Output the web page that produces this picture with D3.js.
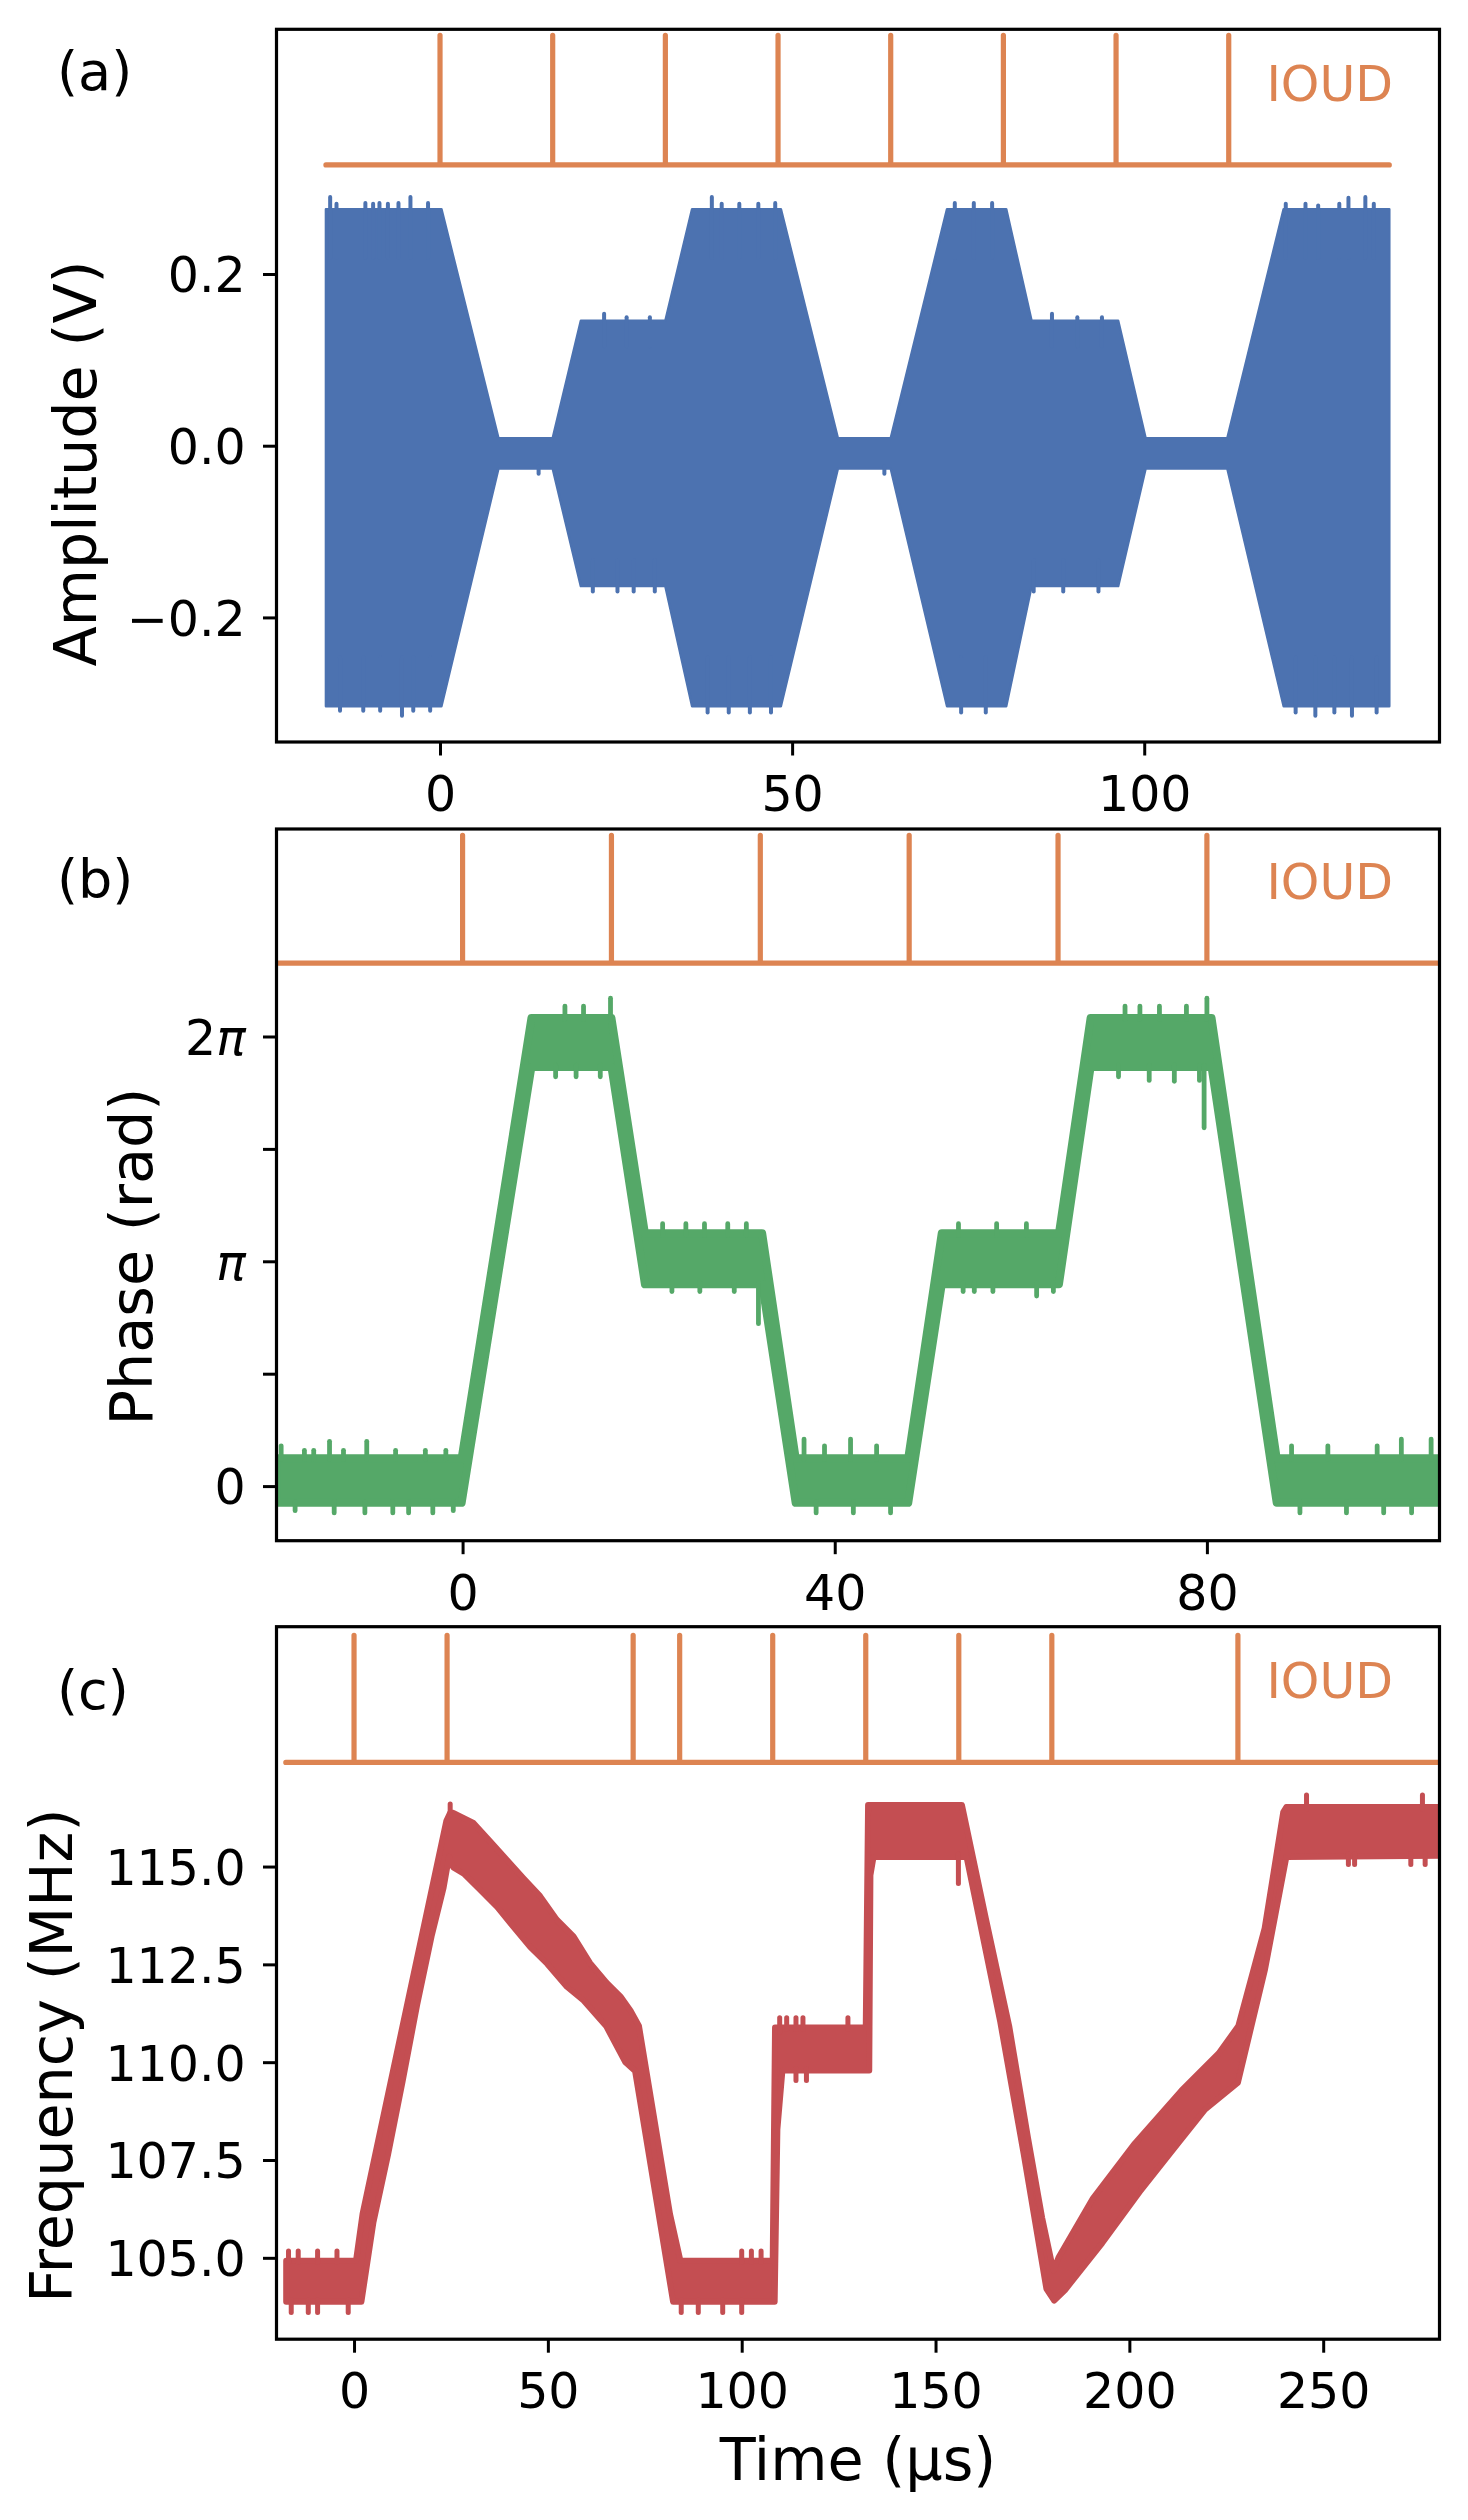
<!DOCTYPE html>
<html>
<head>
<meta charset="utf-8">
<script src="https://cdn.jsdelivr.net/npm/d3@7/dist/d3.min.js"></script>
<style>
html,body{margin:0;padding:0;background:#ffffff;}
svg{display:block;}
</style>
</head>
<body>
<svg id="fig" width="1468" height="2520" xmlns="http://www.w3.org/2000/svg"></svg>
<script>
// ================= DATA =================
// ---- panel (a): amplitude envelope of the RF signal (V) ----
const ampXTicks = [0, 50, 100];
const ampYTicks = [-0.2, 0.0, 0.2];
const ampT  = [-16.2, 0.2, 8.3, 16.0, 20.0, 32.0, 35.8, 48.4, 56.5, 64.0, 72.0, 80.4, 84.0, 96.3, 100.2, 111.8, 119.8, 134.8];
const ampHi = [0.277, 0.277, 0.010, 0.010, 0.147, 0.147, 0.277, 0.277, 0.010, 0.010, 0.277, 0.277, 0.147, 0.147, 0.010, 0.010, 0.277, 0.277];
const ampLo = [-0.305, -0.305, -0.028, -0.028, -0.165, -0.165, -0.305, -0.305, -0.028, -0.028, -0.305, -0.305, -0.165, -0.165, -0.028, -0.028, -0.305, -0.305];
const ampSpikeT = [-15.6, -14.7, -10.6, -9.5, -8.6, -7.4, -5.9, -4.2, -1.7, 23.3, 26.5, 29.8, 38.6, 40.0, 42.5, 45.2, 47.6, 73.1, 75.8, 78.4, 86.9, 90.5, 94.0, 120.1, 122.9, 124.7, 127.7, 129.0, 131.4, 132.6,
                   -14.2, -10.9, -8.5, -5.4, -3.8, -1.4, 21.7, 25.2, 27.5, 30.5, 38.0, 41.0, 44.0, 47.0, 74.0, 77.5, 84.3, 88.5, 93.5, 14.0, 63.1, 121.5, 124.3, 127.0, 129.5, 133.0];
const ampSpikeV = [0.292, 0.284, 0.285, 0.284, 0.285, 0.284, 0.285, 0.292, 0.285, 0.156, 0.152, 0.152, 0.292, 0.284, 0.284, 0.284, 0.285, 0.285, 0.285, 0.285, 0.156, 0.152, 0.152, 0.284, 0.284, 0.282, 0.284, 0.291, 0.292, 0.284,
                   -0.311, -0.311, -0.311, -0.317, -0.311, -0.311, -0.172, -0.172, -0.172, -0.172, -0.313, -0.313, -0.313, -0.313, -0.313, -0.313, -0.172, -0.172, -0.172, -0.035, -0.035, -0.313, -0.317, -0.313, -0.317, -0.313];
const ioudA = [0, 16, 32, 48, 64, 80, 96, 112];
const ioudASpan = [-16.2, 134.8];
const ioudALevels = [0.327, 0.478];

// ---- panel (b): phase (in units of pi) ----
const phaseXTicks = [0, 40, 80];
const phaseYTicks = [0, 0.5, 1, 1.5, 2];
const phaseYLabels = ['0', '', 'π', '', '2π'];
const phaseT  = [-20, -0.1, 7.4, 16.0, 19.6, 32.2, 35.8, 47.9, 51.5, 64.1, 67.5, 80.5, 87.5, 105];
const phaseHi = [0.142, 0.142, 2.100, 2.100, 1.142, 1.142, 0.142, 0.142, 1.142, 1.142, 2.100, 2.100, 0.142, 0.142];
const phaseLo = [-0.092, -0.092, 1.847, 1.847, 0.880, 0.880, -0.092, -0.092, 0.880, 0.880, 1.847, 1.847, -0.092, -0.092];
const phaseSpikeT = [-19.5, -17.0, -16.0, -14.3, -12.8, -10.3, -7.2, -4.0, -1.8, -18.0, -13.8, -10.5, -7.5, -5.8, -3.2, -1.0,
                     11.0, 13.0, 15.9, 10.0, 12.2, 14.8, 21.5, 24.0, 26.0, 28.5, 30.5, 22.5, 25.5, 29.2, 31.8,
                     36.7, 38.9, 41.7, 44.5, 38.0, 42.0, 46.0, 53.3, 57.4, 60.6, 53.8, 55.0, 57.0, 61.7, 63.5,
                     71.2, 72.8, 74.9, 77.8, 80.0, 70.5, 73.8, 76.5, 79.2, 79.7, 89.1, 93.0, 98.3, 100.9, 104.1, 90.0, 95.0, 99.0, 102.0];
const phaseSpikeV = [0.19, 0.17, 0.17, 0.21, 0.17, 0.21, 0.17, 0.17, 0.17, -0.12, -0.13, -0.13, -0.13, -0.13, -0.13, -0.12,
                     2.146, 2.146, 2.181, 1.81, 1.81, 1.81, 1.178, 1.178, 1.178, 1.178, 1.178, 0.855, 0.855, 0.855, 0.712,
                     0.22, 0.19, 0.22, 0.19, -0.13, -0.13, -0.13, 1.178, 1.178, 1.178, 0.855, 0.855, 0.855, 0.835, 0.855,
                     2.146, 2.146, 2.146, 2.146, 2.181, 1.81, 1.794, 1.79, 1.794, 1.583, 0.19, 0.19, 0.19, 0.22, 0.22, -0.13, -0.13, -0.13, -0.13];
const ioudB = [0, 16, 32, 48, 64, 80];
const ioudBSpan = [-20, 105];
const ioudBLevels = [2.326, 2.895];

// ---- panel (c): frequency (MHz) ----
const freqXTicks = [0, 50, 100, 150, 200, 250];
const freqYTicks = [105.0, 107.5, 110.0, 112.5, 115.0];
const freqHiT = [-17.5, 0.5, 2.2, 13.8, 23.8, 24.8, 25.6, 30.8, 35.1, 39.4, 43.7, 48.0, 52.3, 56.6, 60.9, 65.2, 68.7, 71.3, 73.5, 81.5, 84.2, 108.0, 108.6, 132.0, 132.6, 156.8, 163.0, 169.0, 173.8, 177.5, 180.4, 181.8, 190.6, 201.4, 213.4, 223.0, 228.1, 234.9, 239.7, 240.5, 280];
const freqHiV = [105.0, 105.0, 106.2, 111.6, 116.24, 116.45, 116.45, 116.19, 115.72, 115.25, 114.78, 114.32, 113.72, 113.29, 112.61, 112.1, 111.76, 111.4, 111.0, 106.2, 105.0, 105.0, 110.96, 110.96, 116.65, 116.65, 113.74, 111.0, 108.17, 106.1, 104.75, 105.1, 106.6, 108.0, 109.35, 110.3, 111.0, 113.5, 116.47, 116.6, 116.6];
const freqLoT = [-17.5, 1.9, 5.0, 8.8, 12.5, 16.3, 20.0, 23.1, 24.5, 25.6, 28.3, 32.6, 36.9, 41.1, 45.4, 49.8, 54.9, 59.2, 65.0, 70.0, 72.5, 82.3, 108.5, 109.2, 110.5, 132.9, 133.2, 134.0, 158.0, 166.7, 172.7, 178.6, 180.6, 183.4, 193.0, 202.6, 212.2, 219.4, 228.0, 235.0, 240.5, 280];
const freqLoV = [103.8, 103.8, 105.83, 107.57, 109.42, 111.4, 113.14, 114.38, 115.17, 114.9, 114.74, 114.32, 113.89, 113.38, 112.87, 112.44, 111.85, 111.5, 110.85, 109.92, 109.7, 103.8, 103.8, 108.2, 109.71, 109.71, 114.7, 115.17, 115.17, 110.95, 107.6, 104.13, 103.83, 104.1, 105.3, 106.6, 107.8, 108.7, 109.4, 112.3, 115.17, 115.2];
const freqSpikeT = [-16.9, -14.4, -9.4, -4.4, -16.2, -11.8, -9.4, -1.5, 100.0, 102.5, 105.0, 84.4, 88.8, 95.1, 100.0,
                    109.8, 111.6, 114.0, 115.8, 127.4, 114.0, 116.7, 155.9, 245.7, 275.6, 256.5, 258.1, 272.6, 276.3, 24.8];
const freqSpikeV = [105.24, 105.24, 105.24, 105.24, 103.54, 103.54, 103.54, 103.54, 105.24, 105.24, 105.24, 103.54, 103.54, 103.54, 103.54,
                    111.2, 111.2, 111.2, 111.2, 111.2, 109.47, 109.47, 114.5, 116.89, 116.89, 114.99, 114.99, 114.99, 114.99, 116.66];
const ioudC = [0, 24, 72, 84, 108, 132, 156, 180, 228];
const ioudCSpan = [-17.6, 280];
const ioudCLevels = [117.66, 120.91];

// ================= DRAWING =================
const FONT = '"DejaVu Sans", "Liberation Sans", sans-serif';
const ORANGE = '#dd8452';
const svg = d3.select('#fig');
svg.append('rect').attr('width', 1468).attr('height', 2520).attr('fill', '#ffffff');

function styleAxis(a) {
  a.attr('font-family', FONT).attr('font-size', 49);
  a.select('.domain').remove();
  a.selectAll('line').attr('stroke', '#000').attr('stroke-width', 3);
  a.selectAll('text').attr('fill', '#000');
}

function drawPanel(cfg) {
  const fr = cfg.frame;
  const x = d3.scaleLinear().domain(cfg.xDomain).range([fr.x0, fr.x1]);
  const y = d3.scaleLinear().domain(cfg.yDomain).range([fr.y1, fr.y0]);
  const g = svg.append('g');
  const clipId = 'clip' + cfg.id;
  svg.append('clipPath').attr('id', clipId).append('rect')
    .attr('x', fr.x0).attr('y', fr.y0).attr('width', fr.x1 - fr.x0).attr('height', fr.y1 - fr.y0);
  const plot = g.append('g').attr('clip-path', `url(#${clipId})`);

  // band (noisy trace envelope); outline inset by half the stroke so the outer edge matches the data
  const hw = cfg.edgeW / 2;
  const hiPts = cfg.hiT.map((t, i) => [x(t), y(cfg.hiV[i]) + hw]);
  const loPts = cfg.loT.map((t, i) => [x(t), y(cfg.loV[i]) - hw]).reverse();
  plot.append('path')
    .attr('d', d3.line()(hiPts.concat(loPts)) + 'Z')
    .attr('fill', cfg.color).attr('stroke', cfg.color)
    .attr('stroke-width', cfg.edgeW).attr('stroke-linejoin', 'round');

  // spikes
  const hiS = d3.scaleLinear().domain(cfg.hiT).range(cfg.hiV).clamp(true);
  const loS = d3.scaleLinear().domain(cfg.loT).range(cfg.loV).clamp(true);
  plot.append('g').selectAll('line').data(cfg.spikeT.map((t, i) => [t, cfg.spikeV[i]]))
    .join('line')
    .attr('x1', d => x(d[0])).attr('x2', d => x(d[0]))
    .attr('y1', d => {
      const h = hiS(d[0]), l = loS(d[0]);
      return y(d[1] > (h + l) / 2 ? h - (h - l) * 0.1 : l + (h - l) * 0.1);
    })
    .attr('y2', d => (d[1] > (hiS(d[0]) + loS(d[0])) / 2 ? y(d[1]) + cfg.spikeW / 2 : y(d[1]) - cfg.spikeW / 2))
    .attr('stroke', cfg.color).attr('stroke-width', cfg.spikeW).attr('stroke-linecap', 'round');

  // IOUD trigger trace
  const [base, top] = cfg.ioudLevels;
  const ioudPts = [[x(cfg.ioudSpan[0]), y(base)]];
  cfg.ioud.forEach(t => { ioudPts.push([x(t), y(base)], [x(t), y(top)], [x(t), y(base)]); });
  ioudPts.push([x(cfg.ioudSpan[1]), y(base)]);
  plot.append('path').attr('d', d3.line()(ioudPts))
    .attr('fill', 'none').attr('stroke', ORANGE).attr('stroke-width', 5.2)
    .attr('stroke-linecap', 'round').attr('stroke-linejoin', 'round');

  g.append('text').attr('x', 1393).attr('y', cfg.ioudTextY)
    .attr('text-anchor', 'end').attr('font-family', FONT).attr('font-size', 49)
    .attr('fill', ORANGE).text('IOUD');

  // axes
  const ax = g.append('g').attr('transform', `translate(0,${fr.y1})`)
    .call(d3.axisBottom(x).tickValues(cfg.xTicks).tickSize(13.5).tickPadding(20.7).tickFormat(d3.format('d')));
  styleAxis(ax);
  const ay = g.append('g').attr('transform', `translate(${fr.x0},0)`)
    .call(d3.axisLeft(y).tickValues(cfg.yTicks).tickSize(13.5).tickPadding(17.3).tickFormat(cfg.yFormat));
  styleAxis(ay);
  ay.selectAll('text').attr('dy', '0.365em');
  if (cfg.yPostFormat) cfg.yPostFormat(ay);

  // frame
  g.append('rect').attr('x', fr.x0).attr('y', fr.y0)
    .attr('width', fr.x1 - fr.x0).attr('height', fr.y1 - fr.y0)
    .attr('fill', 'none').attr('stroke', '#000').attr('stroke-width', 3.2);

  // panel letter
  g.append('text').attr('x', 57).attr('y', cfg.letterY)
    .attr('font-family', FONT).attr('font-size', 54).attr('fill', '#000').text(cfg.letter);

  // y label
  g.append('text').attr('transform', `translate(${cfg.yLabelX},${cfg.yLabelY}) rotate(-90)`)
    .attr('text-anchor', 'middle').attr('font-family', FONT).attr('font-size', 58.8)
    .attr('fill', '#000').text(cfg.yLabel);
}

const fmt1 = d3.format('.1f');

drawPanel({
  id: 'a', frame: {x0: 276.5, x1: 1439.5, y0: 29.3, y1: 742},
  xDomain: [-23.22, 141.93], yDomain: [-0.3451, 0.4850],
  hiT: ampT, hiV: ampHi, loT: ampT, loV: ampLo,
  spikeT: ampSpikeT, spikeV: ampSpikeV,
  color: '#4c72b0', edgeW: 2.5, spikeW: 4,
  ioud: ioudA, ioudSpan: ioudASpan, ioudLevels: ioudALevels, ioudTextY: 101,
  xTicks: ampXTicks, yTicks: ampYTicks, yFormat: fmt1,
  letter: '(a)', letterY: 89.5,
  yLabel: 'Amplitude (V)', yLabelX: 95.5, yLabelY: 463.5
});

drawPanel({
  id: 'b', frame: {x0: 276.5, x1: 1439.5, y0: 829, y1: 1540.7},
  xDomain: [-20, 105], yDomain: [-0.2429, 2.923],
  hiT: phaseT, hiV: phaseHi, loT: phaseT, loV: phaseLo,
  spikeT: phaseSpikeT, spikeV: phaseSpikeV,
  color: '#55a868', edgeW: 8, spikeW: 4.8,
  ioud: ioudB, ioudSpan: ioudBSpan, ioudLevels: ioudBLevels, ioudTextY: 899,
  xTicks: phaseXTicks, yTicks: phaseYTicks,
  yFormat: (d, i) => phaseYLabels[i],
  yPostFormat: (ay) => {
    ay.selectAll('text').each(function (d, i) {
      const lab = phaseYLabels[i];
      const s = d3.select(this);
      s.text(null);
      if (lab.endsWith('π')) {
        const pre = lab.slice(0, -1);
        if (pre) s.append('tspan').text(pre);
        s.append('tspan').attr('font-style', 'italic').text('π');
      } else {
        s.text(lab);
      }
    });
  },
  letter: '(b)', letterY: 897.5,
  yLabel: 'Phase (rad)', yLabelX: 152, yLabelY: 1256.6
});

drawPanel({
  id: 'c', frame: {x0: 276.5, x1: 1439.5, y0: 1626.7, y1: 2339.2},
  xDomain: [-20, 280], yDomain: [102.92, 121.13],
  hiT: freqHiT, hiV: freqHiV, loT: freqLoT, loV: freqLoV,
  spikeT: freqSpikeT, spikeV: freqSpikeV,
  color: '#c44e52', edgeW: 6, spikeW: 5,
  ioud: ioudC, ioudSpan: ioudCSpan, ioudLevels: ioudCLevels, ioudTextY: 1697.5,
  xTicks: freqXTicks, yTicks: freqYTicks, yFormat: fmt1,
  letter: '(c)', letterY: 1709,
  yLabel: 'Frequency (MHz)', yLabelX: 72, yLabelY: 2055.7
});

// x label
svg.append('text').attr('x', 858).attr('y', 2480)
  .attr('text-anchor', 'middle').attr('font-family', FONT).attr('font-size', 58.8)
  .attr('fill', '#000').text('Time (µs)');
</script>
</body>
</html>
